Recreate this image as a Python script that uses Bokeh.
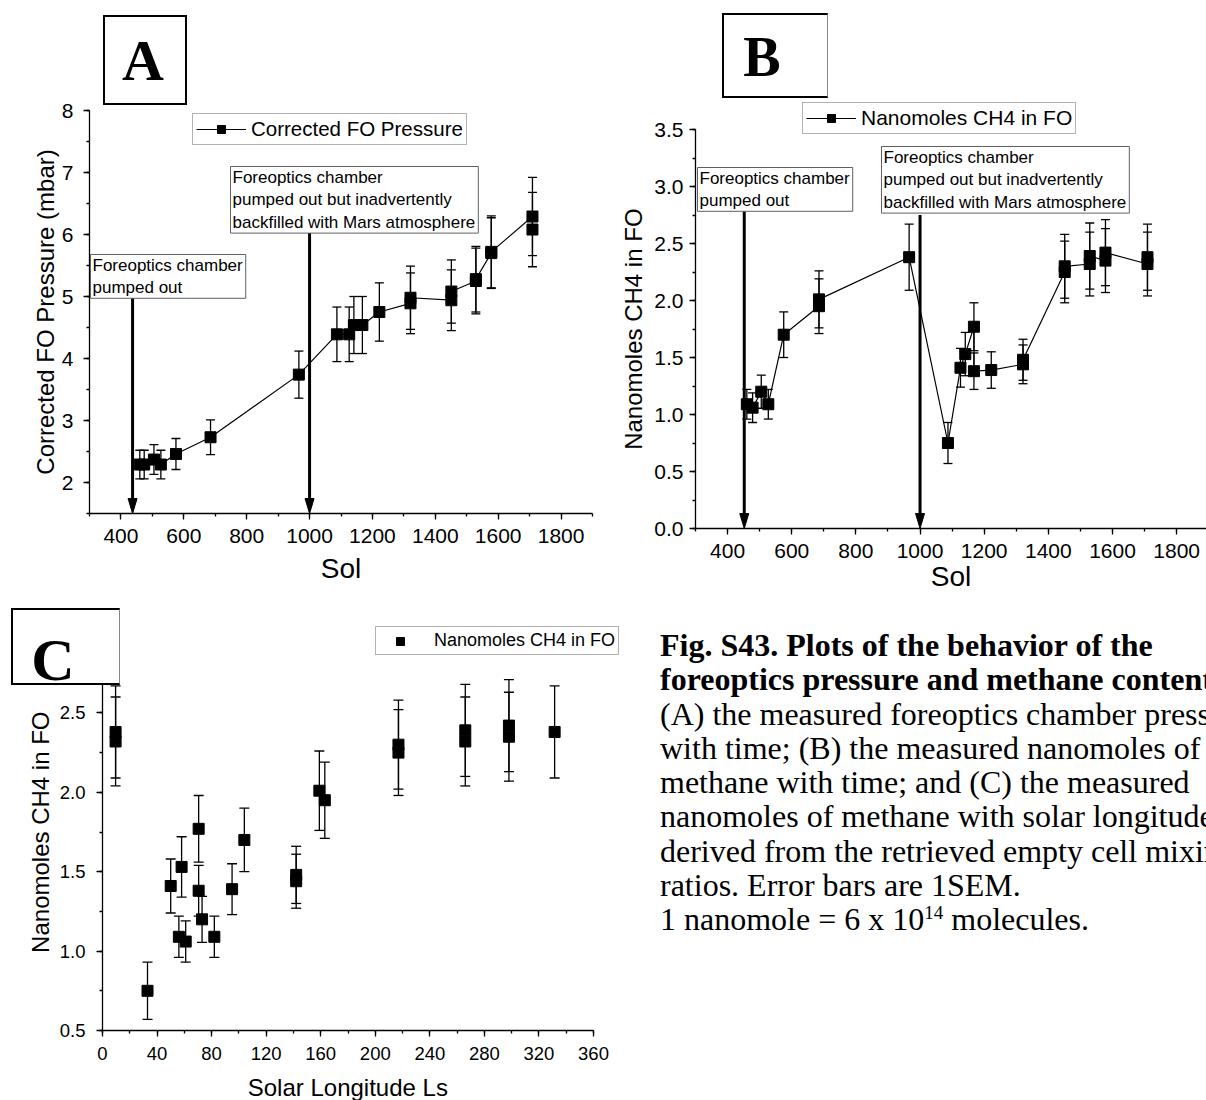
import numpy as np
from bokeh.plotting import figure
from bokeh.models import (ColumnDataSource, Whisker, TeeHead, Label, Legend, LegendItem,
                          SingleIntervalTicker, Range1d, Div, NumeralTickFormatter)
from bokeh.core.templates import get_env
from bokeh.embed import file_html
from bokeh.resources import INLINE

SANS = "Liberation Sans"
SERIF = "Liberation Serif"
NBSP = "\u00a0"

# ---- Panel A: corrected foreoptics (FO) pressure against sol ----
sol_a = [460, 474, 505, 527, 575, 685, 966, 1087, 1126, 1141, 1168, 1222,
         1321, 1321, 1451, 1451, 1529, 1529, 1578, 1578, 1709, 1709]
pressure_mbar = [2.29, 2.29, 2.37, 2.29, 2.46, 2.73, 3.74, 4.39, 4.39, 4.54, 4.54, 4.75,
                 4.89, 4.98, 4.94, 5.08, 5.25, 5.28, 5.70, 5.72, 6.29, 6.08]
pressure_sem = [0.23, 0.23, 0.24, 0.23, 0.25, 0.28, 0.38, 0.44, 0.44, 0.46, 0.46, 0.47,
                0.49, 0.51, 0.49, 0.51, 0.53, 0.53, 0.57, 0.58, 0.63, 0.60]

# ---- Panels B and C: nanomoles of CH4 in the foreoptics ----
sol_b = [460, 478, 505, 527, 575, 685, 685, 966, 1087, 1126, 1141, 1168, 1168, 1222,
         1321, 1321, 1451, 1451, 1529, 1529, 1578, 1578, 1709, 1709]
ch4_nmol = [1.09, 1.06, 1.20, 1.09, 1.70, 1.95, 2.01, 2.38, 0.75, 1.41, 1.53, 1.77, 1.38, 1.39,
            1.44, 1.48, 2.25, 2.30, 2.32, 2.39, 2.35, 2.42, 2.32, 2.38]
ch4_sem = [0.13, 0.13, 0.145, 0.13, 0.20, 0.24, 0.25, 0.29, 0.18, 0.17, 0.19, 0.21, 0.16, 0.16,
           0.17, 0.18, 0.27, 0.28, 0.28, 0.29, 0.28, 0.29, 0.28, 0.29]
solar_longitude = [56, 61, 73, 82, 104, 163, 159, 331.5, 33, 50, 58, 70.5, 70.5, 95,
                   142, 142, 217, 217, 266, 266, 298, 298, 9.6, 9.6]

# foreoptics pump-out events: sol of each event and where its arrow starts
events_a = [437, 1000]
event_top_a = [4.98, 6.05]
events_b = [452, 1000]
event_top_b = [2.79, 2.75]

event_text_1 = "Foreoptics chamber\npumped out"
event_text_2 = "Foreoptics chamber\npumped out but inadvertently\nbackfilled with Mars atmosphere"


def base_figure(name, w, h, xr, yr, left, right, top, bottom):
    p = figure(name=name, width=w, height=h, x_range=Range1d(*xr), y_range=Range1d(*yr),
               output_backend="svg", toolbar_location=None, title=None,
               min_border_left=left, min_border_right=right,
               min_border_top=top, min_border_bottom=bottom)
    p.xgrid.visible = False
    p.ygrid.visible = False
    p.outline_line_color = None
    p.background_fill_color = "white"
    p.border_fill_color = "white"
    return p


def style_axis(ax, tick_px, label_px, tick_standoff, label_standoff):
    ax.axis_line_color = "black"
    ax.axis_line_width = 1.3
    ax.major_tick_line_color = "black"
    ax.major_tick_line_width = 1.3
    ax.minor_tick_line_color = "black"
    ax.minor_tick_line_width = 1.3
    ax.major_tick_in = 0
    ax.major_tick_out = 6
    ax.minor_tick_in = 0
    ax.minor_tick_out = 3
    ax.major_label_text_font = SANS
    ax.major_label_text_font_size = f"{tick_px}px"
    ax.major_label_text_color = "black"
    ax.major_label_standoff = tick_standoff
    ax.axis_label_text_font = SANS
    ax.axis_label_text_font_size = f"{label_px}px"
    ax.axis_label_text_font_style = "normal"
    ax.axis_label_text_color = "black"
    ax.axis_label_standoff = label_standoff


def error_bars(p, x, y, e, cap=9):
    y = np.array(y)
    e = np.array(e)
    src = ColumnDataSource(dict(x=x, hi=y + e, lo=y - e))
    p.add_layout(Whisker(source=src, base="x", upper="hi", lower="lo",
                         line_color="black", line_width=1.3,
                         upper_head=TeeHead(size=cap, line_color="black", line_width=1.3),
                         lower_head=TeeHead(size=cap, line_color="black", line_width=1.3)))


def note(p, x, y, text):
    p.add_layout(Label(x=x, y=y, x_units="screen", y_units="screen", text=text,
                       text_font=SANS, text_font_size="17px", text_color="black",
                       text_align="left", text_baseline="top", text_line_height=1.2,
                       padding=dict(left=2, right=3, top=1, bottom=1),
                       border_line_color="#606060", border_line_width=1,
                       background_fill_color="white"))


def event_arrows(p, xs, tops, bottom, px_x, px_y):
    """Vertical arrows with a narrow filled head; px_x / px_y are pixels per data unit."""
    half_w = 4.5 / px_x
    head_len = 15 / px_y
    p.segment(x0=xs, y0=tops, x1=xs, y1=[bottom + head_len * 0.8] * len(xs),
              line_color="black", line_width=3)
    p.patches(xs=[[x - half_w, x + half_w, x] for x in xs],
              ys=[[bottom + head_len, bottom + head_len, bottom] for _ in xs],
              fill_color="black", line_color="black", line_width=1)


def legend(p, label, renderers, x, y, font_px, glyph_w, standoff, pad):
    p.add_layout(Legend(items=[LegendItem(label=label, renderers=renderers)],
                        location=(x, y), label_text_font=SANS,
                        label_text_font_size=f"{font_px}px", label_text_color="black",
                        glyph_width=glyph_w, glyph_height=20, label_standoff=standoff,
                        padding=pad, margin=0, spacing=0,
                        border_line_color="#666666", border_line_width=1))


def panel_tag(name, letter, w, h, size, shift, top, thin_right):
    right = "1.5px solid #888" if thin_right else "2px solid #000"
    html = (f"<div style=\"position:relative;box-sizing:border-box;width:{w}px;height:{h}px;"
            f"border:2px solid #000;border-right:{right};background:#fff;\">"
            f"<span style=\"position:absolute;left:{shift}px;right:0;top:{top}px;"
            f"text-align:center;font-family:'{SERIF}';font-weight:bold;font-size:{size}px;"
            f"line-height:1;color:#000;\">{letter}</span></div>")
    return Div(name=name, text=html, width=w, height=h, margin=0)


# ---------------- Panel A ----------------
pa = base_figure("panel_a", 600, 600, (300, 1900), (1.5, 8), 89, 8, 110, 87)
pa.xaxis.ticker = SingleIntervalTicker(interval=200, num_minor_ticks=2)
pa.yaxis.ticker = SingleIntervalTicker(interval=1, num_minor_ticks=2)
style_axis(pa.xaxis[0], 21, 28, 9, 7)
style_axis(pa.yaxis[0], 21, 24, 10, 0)
pa.xaxis.axis_label = "Sol"
pa.yaxis.axis_label = "Corrected FO Pressure (mbar)"

error_bars(pa, sol_a, pressure_mbar, pressure_sem)
la = pa.line(sol_a, pressure_mbar, line_color="black", line_width=1.2)
sa = pa.scatter(sol_a, pressure_mbar, marker="square", size=11, color="black")
event_arrows(pa, events_a, event_top_a, 1.5, 503 / 1600, 403 / 6.5)
note(pa, 1, 259, event_text_1)
note(pa, 141, 347, event_text_2)
legend(pa, "Corrected FO Pressure", [la, sa], 103, 368, 20.5, 50, 5, 3)

# ---------------- Panel B ----------------
b_top = 3.5 * 432 / 399          # frame reaches above the axis for the legend
pb = base_figure("panel_b", 606, 600, (300, 1893), (0, b_top), 95, 0, 96, 72)
pb.xaxis.ticker = SingleIntervalTicker(interval=200, num_minor_ticks=2)
pb.yaxis.ticker = SingleIntervalTicker(interval=0.5, num_minor_ticks=2)
pb.yaxis.formatter = NumeralTickFormatter(format="0.0")
pb.yaxis.bounds = (0, 3.5)
style_axis(pb.xaxis[0], 21, 28, 9, 0)
style_axis(pb.yaxis[0], 21, 24, 6, 4)
pb.xaxis.axis_label = "Sol"
# trailing no-break spaces keep the label centred on the drawn axis, not the taller frame
pb.yaxis.axis_label = "Nanomoles CH4 in FO" + NBSP * 5

error_bars(pb, sol_b, ch4_nmol, ch4_sem)
lb = pb.line(sol_b, ch4_nmol, line_color="black", line_width=1.2)
sb = pb.scatter(sol_b, ch4_nmol, marker="square", size=11, color="black")
event_arrows(pb, events_b, event_top_b, 0, 511 / 1593, 432 / b_top)
note(pb, 2, 361, event_text_1)
note(pb, 186, 382, event_text_2)
legend(pb, "Nanomoles CH4 in FO", [lb, sb], 107, 394, 21, 50, 5, 3)

# ---------------- Panel C ----------------
c_right = 360 * 524 / 491        # room on the right and top for the legend
c_top = 0.5 + 2.5 * 410 / 397
pc = base_figure("panel_c", 640, 510, (0, c_right), (0.5, c_top), 102, 14, 20, 80)
pc.xaxis.ticker = SingleIntervalTicker(interval=40, num_minor_ticks=2)
pc.yaxis.ticker = SingleIntervalTicker(interval=0.5, num_minor_ticks=2)
pc.yaxis.formatter = NumeralTickFormatter(format="0.0")
pc.xaxis.bounds = (0, 360)
pc.yaxis.bounds = (0.5, 3.0)
style_axis(pc.xaxis[0], 18.5, 24, 10, 11)
style_axis(pc.yaxis[0], 18.5, 24, 11, 3)
pc.xaxis.axis_label = "Solar Longitude Ls" + NBSP * 5
pc.yaxis.axis_label = "Nanomoles CH4 in FO" + NBSP * 2

error_bars(pc, solar_longitude, ch4_nmol, ch4_sem, cap=10)
sc = pc.scatter(solar_longitude, ch4_nmol, marker="square", size=11, color="black")
legend(pc, "Nanomoles CH4 in FO", [sc], 273, 375, 18, 42, 13, 3)

# ---------------- Panel tags ----------------
tag_a = panel_tag("tag_a", "A", 84, 90, 58, -4, 15.4, False)
tag_b = panel_tag("tag_b", "B", 106, 85, 56, -27, 14.1, True)
tag_c = panel_tag("tag_c", "C", 109, 77, 60, -26, 19.7, True)

# ---------------- Caption ----------------
caption_lines = [
    "<b>Fig. S43. Plots of the behavior of the</b>",
    "<b>foreoptics pressure and methane content.</b>",
    "(A) the measured foreoptics chamber pressure",
    "with time; (B) the measured nanomoles of",
    "methane with time; and (C) the measured",
    "nanomoles of methane with solar longitude",
    "derived from the retrieved empty cell mixing",
    "ratios. Error bars are 1SEM.",
    "1 nanomole = 6 x 10<sup style='font-size:19px;line-height:0;vertical-align:11px'>14</sup> molecules.",
]
caption = Div(
    name="caption",
    text=("<div style=\"font-family:'Liberation Serif';font-size:32px;line-height:34.3px;"
          "color:#000;white-space:nowrap;width:640px;padding:28px 0 0 40px;\">"
          + "<br>".join(caption_lines) + "</div>"),
    width=586, height=500, margin=0, styles={"overflow": "hidden"})

# page: each piece placed at its own position on a 1206 x 1100 sheet
page = get_env().from_string("""{% extends "file.html" %}
{% block contents %}
{% from "macros.html" import embed %}
<div style="position:relative;width:1206px;height:1100px;overflow:hidden;">
<div style="position:absolute;left:0px;top:0px;">{{ embed(roots.panel_a) }}</div>
<div style="position:absolute;left:600px;top:0px;">{{ embed(roots.panel_b) }}</div>
<div style="position:absolute;left:0px;top:600px;">{{ embed(roots.panel_c) }}</div>
<div style="position:absolute;left:620px;top:600px;">{{ embed(roots.caption) }}</div>
<div style="position:absolute;left:103px;top:15px;">{{ embed(roots.tag_a) }}</div>
<div style="position:absolute;left:722px;top:13px;">{{ embed(roots.tag_b) }}</div>
<div style="position:absolute;left:11px;top:608px;">{{ embed(roots.tag_c) }}</div>
</div>
{% endblock %}
""")

models = [pa, pb, pc, caption, tag_a, tag_b, tag_c]
open("out.html", "w").write(file_html(models, INLINE, template=page))
